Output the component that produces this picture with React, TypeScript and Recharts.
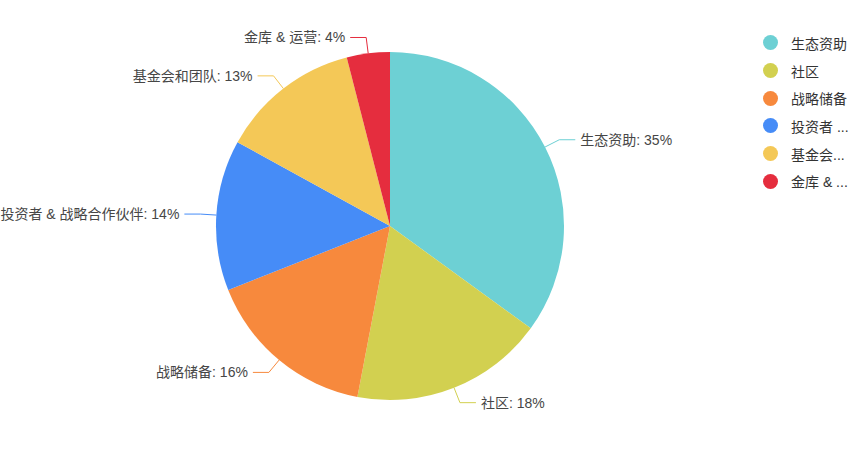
import { Cell, Legend, Pie, PieChart } from 'recharts'

const NAMES = ['生态资助', '社区', '战略储备', '投资者 & 战略合作伙伴', '基金会和团队', '金库 & 运营']
const VALUES = [35, 18, 16, 14, 13, 4]
const COLORS = ['#6dd0d4', '#d2d050', '#f7893d', '#468cf7', '#f4c857', '#e52d3e']

const FONT = '"Liberation Sans", "Noto Sans CJK SC", sans-serif'
const RAD = Math.PI / 180

const rows = NAMES.map((name, i) => ({ name, value: VALUES[i] }))

// legend text is cut at a fixed width, like the original
function truncate(text: string, maxWidth: number): string {
  const ctx = document.createElement('canvas').getContext('2d')
  if (!ctx) return text
  ctx.font = `14px ${FONT}`
  if (ctx.measureText(text).width <= maxWidth) return text
  let out = ''
  for (const ch of Array.from(text)) {
    if (ctx.measureText(out + ch + '...').width > maxWidth) break
    out += ch
  }
  return out + '...'
}

function renderLabel(props: any) {
  const { cx, cy, midAngle, outerRadius, index } = props
  const cos = Math.cos(-midAngle * RAD)
  const sin = Math.sin(-midAngle * RAD)
  const sx = cx + outerRadius * cos
  const sy = cy + outerRadius * sin
  const mx = cx + (outerRadius + 16) * cos
  const my = cy + (outerRadius + 16) * sin
  const dir = cos >= 0 ? 1 : -1
  const ex = mx + dir * 16
  const color = COLORS[index]
  return (
    <g>
      <polyline points={`${sx},${sy} ${mx},${my} ${ex},${my}`} stroke={color} fill="none" strokeWidth={1} />
      <text
        x={ex + dir * 5}
        y={my}
        textAnchor={dir > 0 ? 'start' : 'end'}
        dominantBaseline="central"
        fontSize={14}
        fontFamily={FONT}
        fill="#464646"
      >
        {`${NAMES[index]}: ${VALUES[index]}%`}
      </text>
    </g>
  )
}

function LegendBox() {
  return (
    <div style={{ fontFamily: FONT, fontSize: 14, color: '#333' }}>
      {NAMES.map((name, i) => (
        <div key={name} style={{ display: 'flex', alignItems: 'center', height: 27.7 }}>
          <span style={{ width: 15, height: 15, borderRadius: '50%', background: COLORS[i], marginRight: 13, flexShrink: 0 }} />
          <span style={{ whiteSpace: 'nowrap' }}>{truncate(name, 60)}</span>
        </div>
      ))}
    </div>
  )
}

export default function App() {
  return (
    <div style={{ position: 'absolute', left: 0, top: 0, background: '#fff' }}>
      <PieChart width={860} height={451} margin={{ top: 0, right: 0, bottom: 0, left: 0 }}>
        <Pie
          data={rows}
          dataKey="value"
          nameKey="name"
          cx={390}
          cy={226}
          outerRadius={174}
          startAngle={90}
          endAngle={-270}
          stroke="none"
          label={renderLabel}
          labelLine={false}
          isAnimationActive={false}
        >
          {rows.map((r, i) => (
            <Cell key={r.name} fill={COLORS[i]} />
          ))}
        </Pie>
        <Legend
          content={() => <LegendBox />}
          wrapperStyle={{ position: 'absolute', left: 763, top: 29, width: 97 }}
        />
      </PieChart>
    </div>
  )
}
